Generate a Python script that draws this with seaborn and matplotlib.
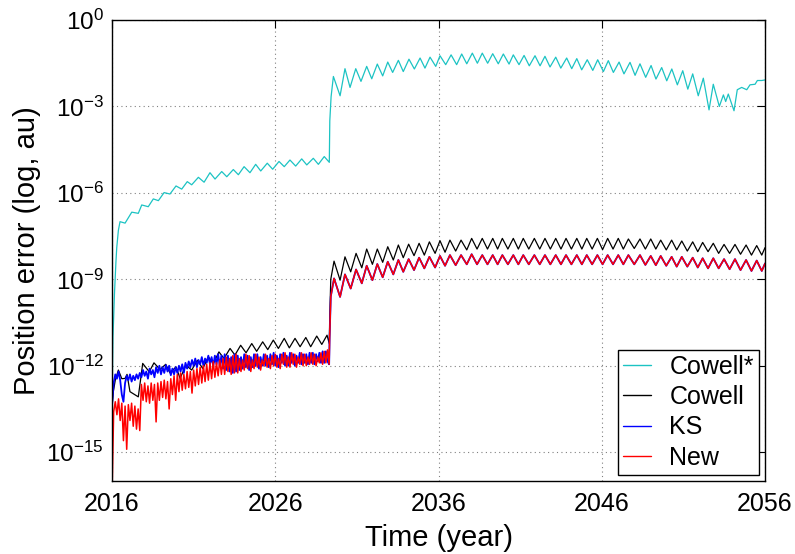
import numpy as np
import pandas as pd
import matplotlib
matplotlib.use("Agg")
import matplotlib.pyplot as plt
import seaborn as sns
from matplotlib.ticker import FixedLocator, NullLocator, LogFormatterMathtext
from matplotlib.lines import Line2D

# ---------------- data (log10 of position error in au) ----------------
series_names = ["Cowell*", "Cowell", "KS", "New"]
x_ticks = [2016, 2026, 2036, 2046, 2056]
y_tick_exponents = [0, -3, -6, -9, -12, -15]

cowell_star_years = [
    2016.00, 2016.06, 2016.15, 2016.24, 2016.29, 2016.39, 2016.49,
    2016.80, 2017.21, 2017.61, 2017.82, 2018.22, 2018.53, 2018.84, 2019.19, 2019.55, 2019.92,
    2020.27, 2020.61, 2020.88, 2021.29, 2021.64, 2022.00, 2022.31, 2022.72, 2023.03, 2023.43,
    2023.74, 2024.09, 2024.45, 2024.80, 2025.11, 2025.51, 2025.84, 2026.23, 2026.55, 2026.90,
    2027.25, 2027.62, 2027.93, 2028.33, 2028.64, 2029.00, 2029.31,
    2029.34, 2029.42, 2029.56, 2029.97, 2030.27, 2030.58, 2030.93, 2031.25, 2031.60, 2031.91,
    2032.25, 2032.58, 2032.89, 2033.19, 2033.54, 2033.84, 2034.19, 2034.52, 2034.87, 2035.17,
    2035.48, 2035.83, 2036.09, 2036.44, 2036.77, 2037.11, 2037.42, 2037.73, 2038.07, 2038.38,
    2038.68, 2039.01, 2039.32, 2039.66, 2039.97, 2040.32, 2040.58, 2040.93, 2041.24, 2041.56,
    2041.91, 2042.22, 2042.52, 2042.83, 2043.18, 2043.49, 2043.85, 2044.16, 2044.47, 2044.77,
    2045.11, 2045.45, 2045.75, 2046.10, 2046.40, 2046.71, 2047.06, 2047.36, 2047.73, 2048.04,
    2048.34, 2048.69, 2049.02, 2049.32, 2049.67, 2049.98, 2050.29, 2050.63, 2050.96, 2051.27,
    2051.57, 2051.91, 2052.22, 2052.57, 2052.83, 2053.20, 2053.45, 2053.59, 2053.75, 2054.10,
    2054.30, 2054.57, 2054.88, 2055.08, 2055.39, 2055.53, 2055.80, 2056.00,
]
cowell_star_log = [
    -13.5, -11.0, -9.5, -8.4, -7.9, -7.3, -7.0,
    -7.05, -6.67, -6.71, -6.42, -6.48, -6.21, -6.27, -5.99, -6.04, -5.76,
    -5.87, -5.61, -5.72, -5.46, -5.63, -5.30, -5.52, -5.26, -5.44, -5.19,
    -5.37, -5.09, -5.30, -5.01, -5.24, -4.97, -5.18, -4.91, -5.09, -4.86,
    -5.07, -4.82, -5.03, -4.80, -5.01, -4.74, -4.94,
    -3.5, -2.66, -1.96, -2.63, -1.69, -2.34, -1.69, -2.13, -1.61, -2.04,
    -1.53, -1.94, -1.46, -1.82, -1.40, -1.79, -1.36, -1.70, -1.32, -1.67,
    -1.29, -1.61, -1.24, -1.55, -1.21, -1.55, -1.18, -1.52, -1.15, -1.50,
    -1.15, -1.50, -1.17, -1.52, -1.18, -1.53, -1.21, -1.55, -1.23, -1.59,
    -1.24, -1.59, -1.26, -1.63, -1.29, -1.67, -1.32, -1.69, -1.34, -1.73,
    -1.38, -1.75, -1.38, -1.79, -1.41, -1.82, -1.46, -1.87, -1.47, -1.92,
    -1.52, -1.99, -1.58, -2.05, -1.65, -2.11, -1.70, -2.25, -1.76, -2.40,
    -1.87, -2.63, -2.02, -3.12, -2.23, -3.00, -2.60, -2.83, -2.57, -3.15,
    -2.42, -2.34, -2.42, -2.25, -2.23, -2.10, -2.10, -2.08,
]

cowell_early_years = [
    2016.00, 2016.08, 2016.20, 2016.39, 2016.60, 2016.80, 2016.92, 2017.10, 2017.30, 2017.61,
    2017.88, 2018.28, 2018.57, 2018.94, 2019.29, 2019.55, 2019.92, 2020.17, 2020.53, 2020.88,
    2021.23, 2021.56, 2021.90, 2022.21, 2022.55, 2022.86, 2023.23, 2023.53, 2023.88, 2024.21,
    2024.56, 2024.86, 2025.23, 2025.54, 2025.88, 2026.19, 2026.55, 2026.86, 2027.21, 2027.52,
    2027.87, 2028.17, 2028.54, 2028.85, 2029.17, 2029.31,
]
cowell_early_log = [
    -13.4, -12.9, -12.5, -12.15, -12.45, -12.44, -12.3, -12.9, -12.97, -13.08,
    -11.92, -12.21, -11.90, -12.13, -11.95, -12.25, -12.04, -12.44, -11.98, -12.15,
    -11.81, -12.10, -11.69, -11.92, -11.52, -11.75, -11.40, -11.63, -11.29, -11.55,
    -11.23, -11.50, -11.17, -11.44, -11.11, -11.40, -11.05, -11.38, -11.05, -11.34,
    -11.02, -11.34, -10.97, -11.26, -10.94, -11.23,
]

# sample years of the noisy KS / New traces before the 2029 jump
early_years = [
    2016.0, 2016.1, 2016.2, 2016.3, 2016.4, 2016.5, 2016.6, 2016.7, 2016.8, 2016.9,
    2017.0, 2017.1, 2017.2, 2017.3, 2017.4, 2017.5, 2017.6, 2017.7, 2017.8, 2017.9,
    2018.0, 2018.1, 2018.2, 2018.3, 2018.4, 2018.5, 2018.6, 2018.7, 2018.8, 2018.9,
    2019.0, 2019.1, 2019.2, 2019.3, 2019.4, 2019.5, 2019.6, 2019.7, 2019.8, 2019.9,
    2020.0, 2020.1, 2020.2, 2020.3, 2020.4, 2020.5, 2020.6, 2020.7, 2020.8, 2020.9,
    2021.0, 2021.1, 2021.2, 2021.3, 2021.4, 2021.5, 2021.6, 2021.7, 2021.8, 2021.9,
    2022.0, 2022.1, 2022.2, 2022.3, 2022.4, 2022.5, 2022.6, 2022.7, 2022.8, 2022.9,
    2023.0, 2023.1, 2023.2, 2023.3, 2023.4, 2023.5, 2023.6, 2023.7, 2023.8, 2023.9,
    2024.0, 2024.1, 2024.2, 2024.3, 2024.4, 2024.5, 2024.6, 2024.7, 2024.8, 2024.9,
    2025.0, 2025.1, 2025.2, 2025.3, 2025.4, 2025.5, 2025.6, 2025.7, 2025.8, 2025.9,
    2026.0, 2026.1, 2026.2, 2026.3, 2026.4, 2026.5, 2026.6, 2026.7, 2026.8, 2026.9,
    2027.0, 2027.1, 2027.2, 2027.3, 2027.4, 2027.5, 2027.6, 2027.7, 2027.8, 2027.9,
    2028.0, 2028.1, 2028.2, 2028.3, 2028.4, 2028.5, 2028.6, 2028.7, 2028.8, 2028.9,
    2029.0, 2029.1, 2029.2, 2029.3,
]
ks_early_log = [
    -13.4, -12.6, -12.3, -12.45, -12.2, -12.5, -13.0, -13.25, -12.6, -12.35,
    -12.5, -12.3, -12.55, -12.35, -12.5, -12.3, -12.45, -12.25, -12.4, -12.15,
    -12.35, -12.2, -12.45, -12.1, -12.3, -12.15, -12.4, -12.05, -12.25, -12.0,
    -12.3, -12.05, -12.25, -11.98, -12.2, -12.0, -12.33, -12.1, -12.3, -12.05,
    -12.25, -12.0, -12.2, -11.95, -12.25, -11.9, -12.1, -11.85, -12.05, -11.8,
    -12.0, -11.75, -12.05, -11.8, -11.95, -11.7, -12.0, -11.75, -11.9, -11.65,
    -11.95, -11.7, -12.0, -11.65, -11.95, -11.6, -12.0, -11.65, -12.1, -11.6,
    -12.15, -11.65, -12.2, -11.7, -12.25, -11.6, -12.2, -11.65, -12.15, -11.7,
    -12.1, -11.6, -12.05, -11.65, -12.15, -11.7, -12.05, -11.6, -12.0, -11.6,
    -12.1, -11.7, -12.0, -11.6, -12.0, -11.65, -12.05, -11.6, -11.95, -11.55,
    -12.0, -11.65, -12.05, -11.6, -11.9, -11.55, -12.0, -11.65, -12.0, -11.55,
    -11.9, -11.6, -12.0, -11.65, -11.9, -11.55, -11.95, -11.6, -11.9, -11.6,
    -11.95, -11.55, -11.9, -11.55, -11.95, -11.6, -11.85, -11.55, -11.9, -11.5,
    -11.9, -11.5, -11.85, -11.95,
]
new_early_log = [
    -16.5, -13.6, -13.25, -13.7, -13.15, -13.9, -13.3, -14.6, -13.4, -14.9,
    -13.35, -13.9, -13.3, -14.1, -13.4, -14.2, -13.5, -14.25, -12.65, -13.2,
    -12.6, -13.25, -12.7, -13.3, -12.6, -13.2, -12.65, -13.95, -12.6, -13.2,
    -12.55, -13.1, -12.5, -13.15, -12.55, -13.5, -12.45, -13.0, -12.35, -13.2,
    -12.3, -12.9, -12.25, -12.85, -12.3, -12.8, -12.2, -12.75, -12.2, -12.95,
    -12.15, -12.7, -12.1, -12.65, -12.05, -12.6, -12.0, -12.55, -11.95, -12.5,
    -11.9, -12.45, -11.85, -12.4, -11.9, -12.35, -11.8, -12.3, -11.75, -12.3,
    -11.7, -12.2, -11.75, -12.3, -11.65, -12.25, -11.6, -12.25, -11.75, -12.2,
    -11.8, -12.15, -11.6, -12.1, -11.65, -12.2, -11.8, -12.1, -11.6, -12.05,
    -11.7, -12.15, -11.8, -12.0, -11.6, -12.05, -11.75, -12.1, -11.65, -12.0,
    -11.6, -12.05, -11.75, -12.1, -11.6, -11.95, -11.55, -12.05, -11.7, -12.05,
    -11.55, -11.95, -11.6, -12.05, -11.7, -11.95, -11.55, -12.0, -11.6, -12.0,
    -11.7, -11.95, -11.55, -11.95, -11.6, -12.0, -11.7, -11.9, -11.55, -11.95,
    -11.5, -11.9, -11.45, -11.95,
]

# peaks / troughs after the 2029 jump (shared by Cowell, KS and New)
late_years = [
    2029.33, 2029.40, 2029.60, 2029.97, 2030.27, 2030.62, 2030.95, 2031.30, 2031.60, 2031.95,
    2032.25, 2032.58, 2032.89, 2033.23, 2033.54, 2033.84, 2034.17, 2034.50, 2034.81, 2035.13,
    2035.44, 2035.79, 2036.09, 2036.40, 2036.70, 2037.05, 2037.38, 2037.73, 2038.03, 2038.36,
    2038.68, 2039.00, 2039.32, 2039.62, 2039.91, 2040.25, 2040.58, 2040.89, 2041.19, 2041.53,
    2041.87, 2042.20, 2042.52, 2042.85, 2043.18, 2043.50, 2043.81, 2044.14, 2044.47, 2044.78,
    2045.08, 2045.41, 2045.73, 2046.05, 2046.36, 2046.69, 2047.01, 2047.32, 2047.63, 2047.99,
    2048.34, 2048.67, 2049.00, 2049.31, 2049.61, 2049.95, 2050.28, 2050.59, 2050.90, 2051.24,
    2051.57, 2051.88, 2052.18, 2052.51, 2052.83, 2053.16, 2053.49, 2053.83, 2054.16, 2054.50,
    2054.84, 2055.17, 2055.49, 2055.80, 2056.00,
]
cowell_late_log = [
    -10.5, -9.0, -8.37, -9.03, -8.22, -8.74, -8.10, -8.60, -7.95, -8.48,
    -7.95, -8.41, -7.87, -8.33, -7.81, -8.25, -7.78, -8.18, -7.75, -8.16,
    -7.70, -8.10, -7.66, -8.06, -7.64, -8.02, -7.64, -7.98, -7.58, -7.95,
    -7.58, -7.95, -7.58, -7.95, -7.58, -7.95, -7.58, -7.95, -7.58, -7.95,
    -7.58, -7.95, -7.58, -7.95, -7.58, -7.95, -7.58, -7.95, -7.58, -7.95,
    -7.58, -7.95, -7.58, -7.97, -7.58, -7.95, -7.58, -7.95, -7.60, -7.93,
    -7.60, -7.95, -7.60, -7.95, -7.64, -7.98, -7.64, -7.98, -7.67, -8.02,
    -7.70, -8.04, -7.72, -8.04, -7.75, -8.10, -7.79, -8.10, -7.79, -8.13,
    -7.81, -8.16, -7.83, -8.16, -7.90,
]
new_late_log = [
    -11.0, -9.6, -8.97, -9.61, -8.83, -9.32, -8.66, -9.14, -8.53, -9.03,
    -8.47, -8.93, -8.39, -8.83, -8.33, -8.74, -8.30, -8.68, -8.25, -8.62,
    -8.22, -8.59, -8.19, -8.53, -8.16, -8.51, -8.16, -8.48, -8.13, -8.48,
    -8.16, -8.48, -8.16, -8.48, -8.16, -8.48, -8.16, -8.48, -8.16, -8.48,
    -8.16, -8.48, -8.16, -8.48, -8.16, -8.48, -8.16, -8.48, -8.16, -8.48,
    -8.16, -8.48, -8.16, -8.48, -8.16, -8.48, -8.16, -8.48, -8.16, -8.48,
    -8.16, -8.50, -8.19, -8.51, -8.19, -8.53, -8.22, -8.56, -8.22, -8.56,
    -8.25, -8.59, -8.27, -8.62, -8.27, -8.62, -8.30, -8.65, -8.30, -8.68,
    -8.33, -8.71, -8.35, -8.71, -8.45,
]
ks_late_log = new_late_log  # KS and New coincide after 2029

series_colors = {"Cowell*": "#1cc3c3", "Cowell": "#000000", "KS": "#0000ff", "New": "#ff0000"}

# ---------------- assemble tidy frame ----------------
def frame(name, years, logs):
    return pd.DataFrame({"year": years, "error": 10.0 ** np.asarray(logs, dtype=float), "method": name})

df = pd.concat([
    frame("Cowell*", cowell_star_years, cowell_star_log),
    frame("Cowell", cowell_early_years + late_years, cowell_early_log + cowell_late_log),
    frame("KS", early_years + late_years, ks_early_log + ks_late_log),
    frame("New", early_years + late_years, new_early_log + new_late_log),
], ignore_index=True)

# ---------------- style ----------------
sns.set_style("white")
plt.rcParams["font.family"] = ["Liberation Sans", "DejaVu Sans"]
plt.rcParams["mathtext.fontset"] = "custom"
plt.rcParams["mathtext.rm"] = "Liberation Sans"
plt.rcParams["mathtext.it"] = "Liberation Sans:italic"
plt.rcParams["mathtext.bf"] = "Liberation Sans:bold"
for key in ["text.color", "axes.labelcolor", "xtick.color", "ytick.color", "axes.edgecolor"]:
    plt.rcParams[key] = "black"

fig = plt.figure(figsize=(7.95, 5.54), dpi=100)
ax = fig.add_axes([0.1409, 0.1318, 0.8214, 0.8321])

widths = {"Cowell*": 0.9, "Cowell": 0.9, "KS": 1.3, "New": 1.1}
for name in series_names:
    sub = df[df["method"] == name]
    sns.lineplot(data=sub, x="year", y="error", color=series_colors[name],
                 estimator=None, sort=False, linewidth=widths[name], ax=ax, legend=False)

ax.set_yscale("log")
ax.set_xlim(2016, 2056)
ax.set_ylim(1e-16, 1.0)
ax.xaxis.set_major_locator(FixedLocator(x_ticks))
ax.yaxis.set_major_locator(FixedLocator([10.0 ** e for e in y_tick_exponents]))
ax.yaxis.set_minor_locator(NullLocator())
ax.xaxis.set_minor_locator(NullLocator())
ax.yaxis.set_major_formatter(LogFormatterMathtext())

ax.grid(True, which="major", linestyle=(0, (1, 3)), color="0.5", linewidth=0.8)
ax.tick_params(axis="both", which="major", direction="in", length=6, width=0.8,
               top=True, right=True, labelsize=18, colors="black")
ax.tick_params(axis="x", pad=8)
ax.tick_params(axis="y", pad=6, labelsize=17.5)
for s in ax.spines.values():
    s.set_visible(True)
    s.set_color("black")
    s.set_linewidth(1.0)

ax.set_xlabel("Time (year)", fontsize=21, labelpad=6, color="black")
ax.set_ylabel("Position error (log, au)", fontsize=21, labelpad=4, color="black")

handles = [Line2D([0], [0], color=series_colors[n], lw=1.0) for n in series_names]
leg = ax.legend(handles, series_names, loc="lower right", fontsize=18, frameon=True,
                fancybox=False, framealpha=1, edgecolor="black", borderaxespad=0.25,
                handlelength=1.1, handletextpad=0.75, labelspacing=0.25, borderpad=0.2)
leg.get_frame().set_linewidth(1.0)
for t in leg.get_texts():
    t.set_color("black")

fig.savefig("out.png", dpi=100)
